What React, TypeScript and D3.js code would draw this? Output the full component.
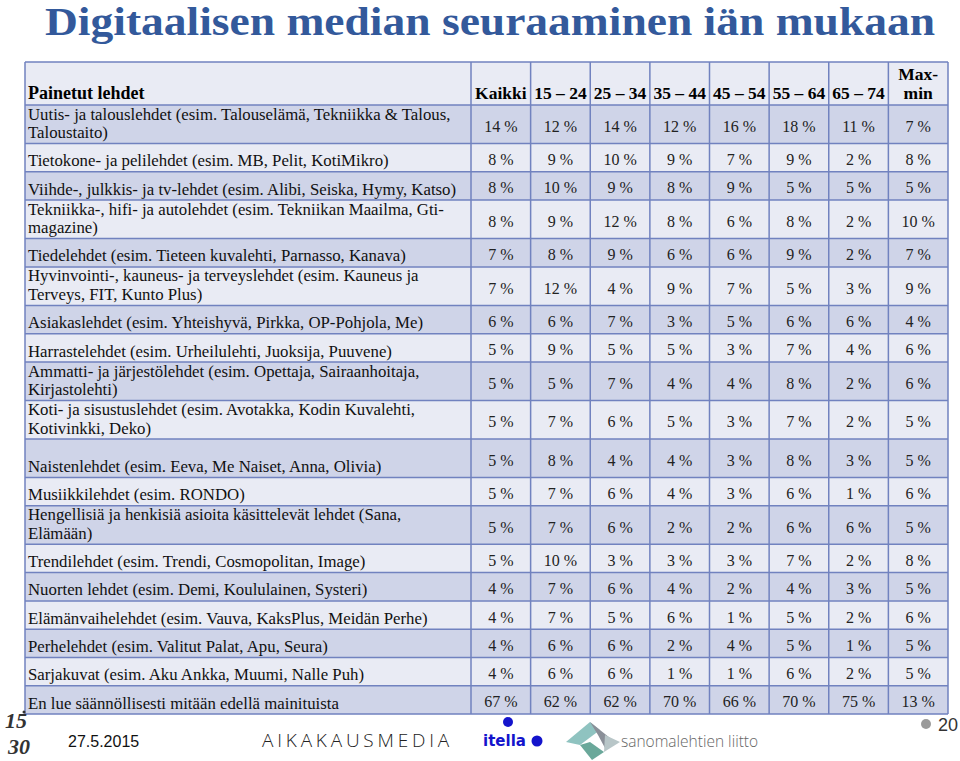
import React from "react";
import * as d3 from "d3";

const title = "Digitaalisen median seuraaminen iän mukaan";
const headerLabel = "Painetut lehdet";
const columns = ["Kaikki", "15 – 24", "25 – 34", "35 – 44", "45 – 54", "55 – 64", "65 – 74", "Max-min"];

const categories: string[][] = [
  ["Uutis- ja talouslehdet (esim. Talouselämä, Tekniikka & Talous,", "Taloustaito)"],
  ["Tietokone- ja pelilehdet (esim. MB, Pelit, KotiMikro)"],
  ["Viihde-, julkkis- ja tv-lehdet (esim. Alibi, Seiska, Hymy, Katso)"],
  ["Tekniikka-, hifi- ja autolehdet (esim. Tekniikan Maailma, Gti-", "magazine)"],
  ["Tiedelehdet (esim. Tieteen kuvalehti,  Parnasso, Kanava)"],
  ["Hyvinvointi-, kauneus- ja terveyslehdet (esim. Kauneus ja", "Terveys, FIT, Kunto Plus)"],
  ["Asiakaslehdet (esim. Yhteishyvä, Pirkka, OP-Pohjola, Me)"],
  ["Harrastelehdet (esim. Urheilulehti, Juoksija, Puuvene)"],
  ["Ammatti- ja järjestölehdet (esim. Opettaja, Sairaanhoitaja,", "Kirjastolehti)"],
  ["Koti- ja sisustuslehdet (esim. Avotakka, Kodin Kuvalehti,", "Kotivinkki, Deko)"],
  ["", "Naistenlehdet (esim. Eeva, Me Naiset, Anna, Olivia)"],
  ["Musiikkilehdet (esim. RONDO)"],
  ["Hengellisiä ja henkisiä asioita käsittelevät lehdet (Sana,", "Elämään)"],
  ["Trendilehdet (esim. Trendi, Cosmopolitan, Image)"],
  ["Nuorten lehdet (esim. Demi, Koululainen, Systeri)"],
  ["Elämänvaihelehdet (esim. Vauva, KaksPlus, Meidän Perhe)"],
  ["Perhelehdet (esim. Valitut Palat, Apu, Seura)"],
  ["Sarjakuvat (esim. Aku Ankka, Muumi, Nalle Puh)"],
  ["En lue säännöllisesti mitään edellä mainituista"],
];

const kaikki = [14, 8, 8, 8, 7, 7, 6, 5, 5, 5, 5, 5, 5, 5, 4, 4, 4, 4, 67];
const age15_24 = [12, 9, 10, 9, 8, 12, 6, 9, 5, 7, 8, 7, 7, 10, 7, 7, 6, 6, 62];
const age25_34 = [14, 10, 9, 12, 9, 4, 7, 5, 7, 6, 4, 6, 6, 3, 6, 5, 6, 6, 62];
const age35_44 = [12, 9, 8, 8, 6, 9, 3, 5, 4, 5, 4, 4, 2, 3, 4, 6, 2, 1, 70];
const age45_54 = [16, 7, 9, 6, 6, 7, 5, 3, 4, 3, 3, 3, 2, 3, 2, 1, 4, 1, 66];
const age55_64 = [18, 9, 5, 8, 9, 5, 6, 7, 8, 7, 8, 6, 6, 7, 4, 5, 5, 6, 70];
const age65_74 = [11, 2, 5, 2, 2, 3, 6, 4, 2, 2, 3, 1, 6, 2, 3, 2, 1, 2, 75];
const maxMin = [7, 8, 5, 10, 7, 9, 4, 6, 6, 5, 5, 6, 5, 8, 5, 6, 5, 5, 13];

const series = [kaikki, age15_24, age25_34, age35_44, age45_54, age55_64, age65_74, maxMin];

const W = 960;
const H = 761;
const tableLeft = 25;
const labelRight = 471;
const tableRight = 948;
const tableTop = 62;
const headerH = 43;

const BORDER = "#7182bf";
const DARK = "#cfd4e8";
const LIGHT = "#e9ebf4";
const SERIF = "'Liberation Serif', 'Times New Roman', serif";
const SANS = "'Liberation Sans', Arial, sans-serif";

export default function App() {
  const x = d3.scaleBand<string>().domain(columns).range([labelRight, tableRight]);
  const rowH = categories.map((c) => (c.length > 1 ? 38.5 : 28.3));
  const cum = [0, ...Array.from(d3.cumsum(rowH))];
  const y0 = (i: number) => tableTop + headerH + cum[i];
  const tableBottom = y0(categories.length);

  return (
    <div style={{ position: "absolute", left: 0, top: 0 }}>
      <svg width={W} height={H} style={{ display: "block", background: "#fff" }}>
        <text x={490} y={35} textAnchor="middle" fontFamily={SERIF} fontWeight="bold" fontSize={39.5}
          textLength={890} lengthAdjust="spacingAndGlyphs" fill="#33599b">
          {title}
        </text>

        {/* header */}
        <rect x={tableLeft} y={tableTop} width={tableRight - tableLeft} height={headerH} fill={LIGHT} />
        {categories.map((c, i) => (
          <rect key={"r" + i} x={tableLeft} y={y0(i)} width={tableRight - tableLeft} height={rowH[i]} fill={i % 2 === 0 ? DARK : LIGHT} />
        ))}

        <text x={28} y={99} fontFamily={SERIF} fontWeight="bold" fontSize={18} fill="#000">{headerLabel}</text>
        {columns.map((c) => {
          const cx = (x(c) as number) + x.bandwidth() / 2;
          if (c === "Max-min") {
            return (
              <g key={c}>
                <text x={cx} y={80} textAnchor="middle" fontFamily={SERIF} fontWeight="bold" fontSize={17.5}>Max-</text>
                <text x={cx} y={99} textAnchor="middle" fontFamily={SERIF} fontWeight="bold" fontSize={17.5}>min</text>
              </g>
            );
          }
          return (
            <text key={c} x={cx} y={99} textAnchor="middle" fontFamily={SERIF} fontWeight="bold" fontSize={17.5}>{c}</text>
          );
        })}

        {categories.map((lines, i) => {
          const bottom = y0(i) + rowH[i];
          const mid = y0(i) + rowH[i] / 2;
          return (
            <g key={"row" + i}>
              {lines.map((ln, j) => (
                <text key={j} x={28} y={bottom - 5.5 - (lines.length - 1 - j) * 18.5} fontFamily={SERIF} fontSize={16.8} fill="#111">
                  {ln}
                </text>
              ))}
              {series.map((s, k) => (
                <text key={k} x={(x(columns[k]) as number) + x.bandwidth() / 2} y={mid + 7.5} textAnchor="middle" fontFamily={SERIF} fontSize={16} fill="#222">
                  {`${s[i]} %`}
                </text>
              ))}
            </g>
          );
        })}

        {/* grid lines */}
        {[tableTop, ...categories.map((_, i) => y0(i)), tableBottom].map((yy, i) => (
          <line key={"h" + i} x1={tableLeft} x2={tableRight} y1={yy} y2={yy} stroke={BORDER} strokeWidth={1.5} />
        ))}
        {[tableLeft, ...columns.map((c) => x(c) as number), tableRight].map((xx, i) => (
          <line key={"v" + i} x1={xx} x2={xx} y1={tableTop} y2={tableBottom} stroke={BORDER} strokeWidth={1.5} />
        ))}

        {/* footer */}
        <circle cx={24} cy={712} r={1.5} fill="#333" />
        <g fontFamily={SERIF} fontWeight="bold" fill="#333" fontStyle="italic">
          <text x={5} y={728} fontSize={22}>15</text>
          <text x={8} y={754} fontSize={22}>30</text>
        </g>
        <text x={68} y={747} fontFamily={SANS} fontSize={16} fill="#111">27.5.2015</text>
        <text x={262} y={747} fontFamily="'Open Sans', sans-serif" fontWeight={300} fontSize={19} letterSpacing={3.8} fill="#222">
          AIKAKAUSMEDIA
        </text>
        <circle cx={508} cy={722} r={5} fill="#1414cc" />
        <text x={483} y={746} fontFamily="'DejaVu Sans', sans-serif" fontWeight="bold" fontSize={15} fill="#1414cc">itella</text>
        <circle cx={537} cy={741} r={5.5} fill="#1414cc" />
        <g>
          <path d="M566,742 L590,722 L600,730 L580,745 Z" fill="#8fc3c0" />
          <path d="M590,722 L615,742 L605,748 L598,735 Z" fill="#8a8f98" />
          <path d="M580,745 L592,760 L604,752 L590,742 Z" fill="#6aa89a" />
          <path d="M604,752 L620,742 L605,735 Z" fill="#b8c6c8" />
        </g>
        <text x={621} y={747} fontFamily="'Open Sans', sans-serif" fontWeight={300} fontSize={15.5} fill="#666">sanomalehtien liitto</text>
        <circle cx={926} cy={724} r={5} fill="#9a9a9a" />
        <text x={938} y={731} fontFamily={SANS} fontSize={18} fill="#333">20</text>
      </svg>
    </div>
  );
}
